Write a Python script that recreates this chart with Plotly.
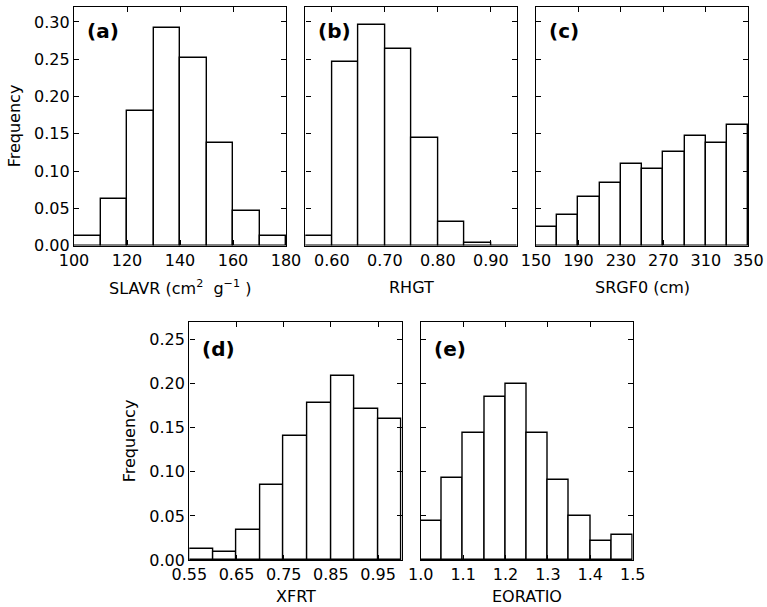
import plotly.graph_objects as go

# ---------------- data ----------------
slavr_edges = [100, 110, 120, 130, 140, 150, 160, 170, 180]
slavr_freq = [0.0128, 0.063, 0.181, 0.292, 0.252, 0.137, 0.047, 0.0128]

rhgt_edges = [0.55, 0.60, 0.65, 0.70, 0.75, 0.80, 0.85, 0.90, 0.95]
rhgt_freq = [0.0128, 0.246, 0.296, 0.264, 0.1437, 0.032, 0.003, 0.0]

srgf0_edges = [150, 170, 190, 210, 230, 250, 270, 290, 310, 330, 350]
srgf0_freq = [0.0248, 0.0409, 0.0653, 0.084, 0.109, 0.1027, 0.125, 0.1468, 0.1375, 0.1624]

xfrt_edges = [0.55, 0.60, 0.65, 0.70, 0.75, 0.80, 0.85, 0.90, 0.95, 1.00]
xfrt_freq = [0.0128, 0.0091, 0.0344, 0.0846, 0.1405, 0.1782, 0.2092, 0.1718, 0.1597]

eoratio_edges = [1.00, 1.05, 1.10, 1.15, 1.20, 1.25, 1.30, 1.35, 1.40, 1.45, 1.50]
eoratio_freq = [0.0438, 0.0932, 0.1439, 0.1847, 0.1997, 0.1439, 0.0906, 0.0498, 0.0219, 0.028]

slavr_ticks = [100, 120, 140, 160, 180]
rhgt_ticks = [0.60, 0.70, 0.80, 0.90]
srgf0_ticks = [150, 190, 230, 270, 310, 350]
xfrt_ticks = [0.55, 0.65, 0.75, 0.85, 0.95]
eoratio_ticks = [1.0, 1.1, 1.2, 1.3, 1.4, 1.5]
freq_ticks_top = [0.00, 0.05, 0.10, 0.15, 0.20, 0.25, 0.30]
freq_ticks_bottom = [0.00, 0.05, 0.10, 0.15, 0.20, 0.25]

x_titles = ["SLAVR (cm<sup>2</sup>  g<sup>\u22121</sup> )", "RHGT", "SRGF0 (cm)", "XFRT", "EORATIO"]
panel_labels = ["(a)", "(b)", "(c)", "(d)", "(e)"]

# ---------------- layout geometry (pixels) ----------------
W, H = 767, 607
boxes = [
    (74.0, 286.0, 7.0, 245.6),
    (305.3, 517.3, 7.0, 245.6),
    (536.0, 748.3, 7.0, 245.6),
    (189.3, 401.7, 322.0, 560.0),
    (420.7, 632.7, 322.0, 560.0),
]

panels = [
    (slavr_edges, slavr_freq, slavr_ticks, "d", [0, 0.32], freq_ticks_top, True),
    (rhgt_edges, rhgt_freq, rhgt_ticks, ".2f", [0, 0.32], freq_ticks_top, False),
    (srgf0_edges, srgf0_freq, srgf0_ticks, "d", [0, 0.32], freq_ticks_top, False),
    (xfrt_edges, xfrt_freq, xfrt_ticks, ".2f", [0, 0.27], freq_ticks_bottom, True),
    (eoratio_edges, eoratio_freq, eoratio_ticks, ".1f", [0, 0.27], freq_ticks_bottom, False),
]

FONT = "DejaVu Sans"
fig = go.Figure()
layout = {}
annotations = []

for i, (edges, freq, xticks, xfmt, yrange, yticks, show_y) in enumerate(panels):
    n = i + 1
    xa = "x" if n == 1 else f"x{n}"
    ya = "y" if n == 1 else f"y{n}"
    centers = [(edges[k] + edges[k + 1]) / 2 for k in range(len(freq))]
    widths = [edges[k + 1] - edges[k] for k in range(len(freq))]
    fig.add_trace(go.Bar(
        x=centers, y=freq, width=widths, xaxis=xa, yaxis=ya,
        marker=dict(color="white", line=dict(color="black", width=1.4)),
        showlegend=False, hoverinfo="skip",
    ))
    l, r, t, b = boxes[i]
    common = dict(
        showline=True, linecolor="black", linewidth=1.4, mirror="ticks",
        ticks="inside", ticklen=5, tickwidth=1, tickcolor="black",
        showgrid=False, zeroline=False, automargin=False,
        tickfont=dict(family=FONT, size=16, color="black"),
    )
    layout["xaxis" if n == 1 else f"xaxis{n}"] = dict(
        domain=[l / W, r / W], anchor=ya,
        range=[edges[0], edges[-1]], tickvals=xticks, tickformat=xfmt,
        **common,
    )
    layout["yaxis" if n == 1 else f"yaxis{n}"] = dict(
        domain=[1 - b / H, 1 - t / H], anchor=xa,
        range=yrange, tickvals=yticks, tickformat=".2f",
        showticklabels=show_y, **common,
    )
    # x-axis title
    off = 42 if n <= 3 else 36.5
    annotations.append(dict(
        text=x_titles[i], xref="paper", yref="paper",
        x=(l + r) / 2 / W, y=1 - (b + off) / H, xanchor="center", yanchor="middle",
        showarrow=False, font=dict(family=FONT, size=16, color="black"),
    ))
    # y-axis title
    if show_y:
        annotations.append(dict(
            text="Frequency", xref="paper", yref="paper",
            x=(l - 60) / W, y=1 - (t + b) / 2 / H, xanchor="center", yanchor="middle",
            textangle=-90, showarrow=False, font=dict(family=FONT, size=16, color="black"),
        ))
    # panel label
    dy = 24 if n <= 3 else 27
    annotations.append(dict(
        text=f"<b>{panel_labels[i]}</b>", xref="paper", yref="paper",
        x=(l + 11) / W, y=1 - (t + dy) / H, xanchor="left", yanchor="middle",
        showarrow=False, font=dict(family=FONT, size=20, color="black"),
    ))

fig.update_layout(
    width=W, height=H, autosize=False,
    margin=dict(l=0, r=0, t=0, b=0, pad=0),
    paper_bgcolor="white", plot_bgcolor="white",
    bargap=0, annotations=annotations,
    font=dict(family=FONT, color="black"),
    **layout,
)

fig.write_html(
    "out.html",
    config={"displayModeBar": False},
    post_script="document.body.style.margin='0px';document.body.style.overflow='hidden';",
)
